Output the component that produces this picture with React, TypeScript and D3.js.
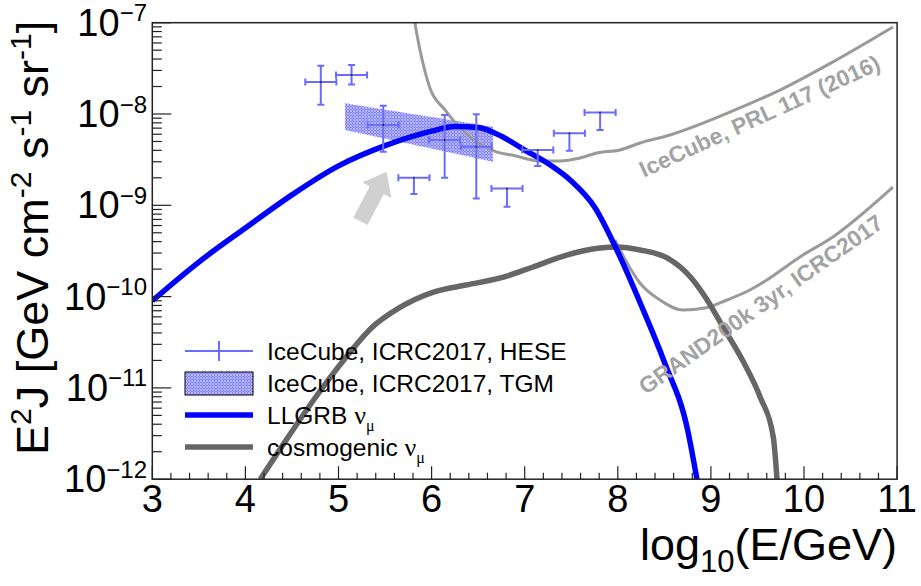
import React from 'react';
import * as d3 from 'd3';

const W = 921;
const H = 586;

// Axis ticks
const xTickValues = [3, 4, 5, 6, 7, 8, 9, 10, 11];
const yTickExponents = [-12, -11, -10, -9, -8, -7];

// IceCube ICRC2017 HESE points (log10 E, E^2 J)
const heseX = [4.81, 5.14, 5.48, 5.81, 6.14, 6.48, 6.81, 7.14, 7.48, 7.81];
const heseXErr = [0.167, 0.167, 0.167, 0.167, 0.167, 0.167, 0.167, 0.167, 0.167, 0.167];
const heseY = [2.24e-8, 2.67e-8, 7.58e-9, 2.0e-9, 5.19e-9, 4.38e-9, 1.53e-9, 4.03e-9, 6.15e-9, 1.04e-8];
const heseYHi = [3.38e-8, 3.44e-8, 1.23e-8, 2.0e-9, 9.75e-9, 9.93e-9, 1.53e-9, 4.03e-9, 6.15e-9, 1.04e-8];
const heseYLo = [1.26e-8, 2.11e-8, 3.86e-9, 1.33e-9, 2.0e-9, 1.19e-9, 9.66e-10, 2.69e-9, 3.96e-9, 6.68e-9];

// IceCube ICRC2017 TGM band
const tgmX = [5.07, 6.66];
const tgmUpper = [1.31e-8, 7.26e-9];
const tgmLower = [6.68e-9, 3.0e-9];

// LLGRB nu_mu
const llgrbX = [3.0, 3.5, 4.0, 4.5, 5.0, 5.5, 6.0, 6.25, 6.5, 6.75, 7.0, 7.25, 7.5, 7.75, 8.0, 8.25, 8.5, 8.75, 8.85, 8.95];
const llgrbY = [9.0e-11, 2.39e-10, 5.64e-10, 1.3e-9, 2.7e-9, 4.5e-9, 6.5e-9, 7.3e-9, 7.1e-9, 5.7e-9, 4.03e-9, 2.87e-9, 1.85e-9, 9.6e-10, 3.08e-10, 8.1e-11, 1.92e-11, 3.46e-12, 1.0e-12, 2.5e-13];

// cosmogenic nu_mu
const cosmoX = [4.16, 4.45, 4.75, 5.07, 5.34, 5.66, 6.02, 6.37, 6.74, 7.09, 7.45, 7.81, 7.99, 8.24, 8.53, 8.78, 8.96, 9.13, 9.35, 9.53, 9.67, 9.71];
const cosmoY = [1.0e-12, 2.8e-12, 7.8e-12, 2.1e-11, 4.4e-11, 7.6e-11, 1.12e-10, 1.34e-10, 1.6e-10, 2.11e-10, 2.85e-10, 3.4e-10, 3.49e-10, 3.24e-10, 2.65e-10, 1.64e-10, 9.2e-11, 4.65e-11, 1.92e-11, 7.9e-12, 2.9e-12, 1.0e-12];

// IceCube, PRL 117 (2016) limit
const icX = [5.8, 5.875, 5.982, 6.144, 6.305, 6.488, 6.702, 6.863, 7.164, 7.379, 7.594, 7.776, 8.023, 8.238, 8.56, 9.387, 9.742, 10.311, 10.956];
const icY = [1.3e-7, 5.02e-8, 1.93e-8, 1.11e-8, 7.04e-9, 4.94e-9, 3.83e-9, 3.55e-9, 3.06e-9, 3.06e-9, 3.3e-9, 3.74e-9, 4.04e-9, 4.81e-9, 5.89e-9, 1.26e-8, 1.83e-8, 3.72e-8, 8.97e-8];

// GRAND200k 3yr sensitivity
const grandX = [7.97, 8.024, 8.131, 8.238, 8.453, 8.7, 8.936, 9.172, 9.419, 9.601, 9.956, 10.31, 10.955];
const grandY = [4.17e-10, 3.24e-10, 2.06e-10, 1.41e-10, 9.18e-11, 7.13e-11, 7.5e-11, 9.18e-11, 1.18e-10, 1.52e-10, 2.72e-10, 4.5e-10, 1.58e-9];

// Arrow annotation (tail -> tip), data coords
const arrowX = [5.235, 5.517];
const arrowY = [6.7e-10, 2.33e-9];

// Curve label anchors (data coords) and angles
const labelTexts = ['IceCube, PRL 117 (2016)', 'GRAND200k 3yr, ICRC2017'];
const labelX = [8.28, 8.3];
const labelY = [2.0e-9, 8.3e-12];
const labelAngle = [-24.6, -35.2];

const legendLabels = ['IceCube, ICRC2017, HESE', 'IceCube, ICRC2017, TGM', 'LLGRB ', 'cosmogenic '];

const FONT = "'Liberation Sans', Arial, Helvetica, sans-serif";

export default function App() {
  const left = 152.3, right = 897.1, top = 22.7, bottom = 479.2;
  const xs = d3.scaleLinear().domain([3, 11]).range([left, right]);
  const ys = d3.scaleLog().domain([1e-12, 1e-7]).range([bottom, top]);

  const line = (X: number[], Y: number[]) =>
    d3.line<number>().x((i) => xs(X[i])).y((i) => ys(Y[i])).curve(d3.curveMonotoneX)(X.map((_, i) => i)) || '';

  const band = d3.area<number>()
    .x((i) => xs(tgmX[i]))
    .y0((i) => ys(tgmLower[i]))
    .y1((i) => ys(tgmUpper[i]))(tgmX.map((_, i) => i)) || '';

  // x minor ticks every 0.2
  const xMinor: number[] = [];
  for (let v = 3; v <= 11.0001; v += 0.2) {
    const r = Math.round(v * 10) / 10;
    if (Math.abs(r - Math.round(r)) > 1e-6) xMinor.push(r);
  }
  const yMinor: number[] = [];
  for (let e = -12; e < -7; e++) for (let k = 2; k <= 9; k++) yMinor.push(k * Math.pow(10, e));

  // Arrow geometry
  const ax0 = xs(arrowX[0]), ay0 = ys(arrowY[0]);
  const ax1 = xs(arrowX[1]), ay1 = ys(arrowY[1]);
  const dx = ax1 - ax0, dy = ay1 - ay0;
  const L = Math.hypot(dx, dy);
  const ux = dx / L, uy = dy / L;
  const nx = -uy, ny = ux;
  const shaftHalf = 8, headHalf = 16.5, headLen = 21;
  const bx = ax1 - ux * headLen, by = ay1 - uy * headLen;
  const arrowPts = [
    [ax0 + nx * shaftHalf, ay0 + ny * shaftHalf],
    [bx + nx * shaftHalf, by + ny * shaftHalf],
    [bx + nx * headHalf, by + ny * headHalf],
    [ax1, ay1],
    [bx - nx * headHalf, by - ny * headHalf],
    [bx - nx * shaftHalf, by - ny * shaftHalf],
    [ax0 - nx * shaftHalf, ay0 - ny * shaftHalf],
  ].map((p) => p.join(',')).join(' ');

  const heseColor = '#6b6bff';
  const cap = 3.5;

  const legX0 = 185, legX1 = 253, legTextX = 267;
  const legRows = [351, 383.5, 415, 447];
  const greek = "'Liberation Serif', 'Times New Roman', serif";

  return (
    <svg width={W} height={H} style={{ position: 'absolute', left: 0, top: 0, background: '#fff' }} fontFamily={FONT}>
      <defs>
        <clipPath id="plotclip">
          <rect x={left} y={top} width={right - left} height={bottom - top} />
        </clipPath>
        <pattern id="tgm" width="3" height="3" patternUnits="userSpaceOnUse">
          <rect width="3" height="3" fill="#d2d2ff" />
          <circle cx="1.5" cy="1.5" r="0.95" fill="none" stroke="#4a4aff" strokeWidth="0.75" />
        </pattern>
      </defs>
      <rect x={0} y={0} width={W} height={H} fill="#fff" />

      <g clipPath="url(#plotclip)">
        <path d={band} fill="url(#tgm)" stroke="none" />
        <polygon points={arrowPts} fill="#cfd0cf" />
        <path d={line(icX, icY)} fill="none" stroke="#9a9a9a" strokeWidth={3} />
        <path d={line(grandX, grandY)} fill="none" stroke="#9a9a9a" strokeWidth={3} />
        <path d={line(cosmoX, cosmoY)} fill="none" stroke="#666666" strokeWidth={5.5} />
        <path d={line(llgrbX, llgrbY)} fill="none" stroke="#0000ff" strokeWidth={5.5} />
        {heseX.map((x, i) => {
          const cx = xs(x), cy = ys(heseY[i]);
          const xl = xs(x - heseXErr[i]), xr = xs(x + heseXErr[i]);
          const yh = ys(heseYHi[i]), yl = ys(heseYLo[i]);
          return (
            <g key={i} stroke={heseColor} strokeWidth={2}>
              <line x1={xl} x2={xr} y1={cy} y2={cy} />
              <line x1={xl} x2={xl} y1={cy - cap} y2={cy + cap} />
              <line x1={xr} x2={xr} y1={cy - cap} y2={cy + cap} />
              <line x1={cx} x2={cx} y1={yh} y2={yl} />
              {cy - yh > 1 && <line x1={cx - cap} x2={cx + cap} y1={yh} y2={yh} />}
              {yl - cy > 1 && <line x1={cx - cap} x2={cx + cap} y1={yl} y2={yl} />}
              <circle cx={cx} cy={cy} r={1} fill="#333" stroke="none" />
            </g>
          );
        })}
      </g>

      {/* curve labels */}
      {labelTexts.map((t, i) => (
        <text key={t} transform={`translate(${xs(labelX[i])},${ys(labelY[i])}) rotate(${labelAngle[i]})`}
          fontSize={22.8} fontWeight="bold" fill="#a3a3a3">{t}</text>
      ))}

      {/* legend */}
      <g>
        <line x1={legX0} x2={legX1} y1={legRows[0]} y2={legRows[0]} stroke={heseColor} strokeWidth={2} />
        <line x1={(legX0 + legX1) / 2} x2={(legX0 + legX1) / 2} y1={legRows[0] - 10} y2={legRows[0] + 10} stroke={heseColor} strokeWidth={2} />
        <rect x={legX0} y={legRows[1] - 11.5} width={legX1 - legX0} height={23} fill="url(#tgm)" stroke="#000" strokeWidth={1} />
        <line x1={legX0} x2={legX1} y1={legRows[2]} y2={legRows[2]} stroke="#0000ff" strokeWidth={5.5} />
        <line x1={legX0} x2={legX1} y1={legRows[3]} y2={legRows[3]} stroke="#666666" strokeWidth={5.5} />
        {legendLabels.map((l, i) => (
          <text key={i} x={legTextX} y={legRows[i] + 8.5} fontSize={24.5} fill="#000">
            {l}
            {i >= 2 && (
              <>
                <tspan fontFamily={greek} fontSize={26}>ν</tspan>
                <tspan fontFamily={greek} fontSize={16} dy={7}>μ</tspan>
              </>
            )}
          </text>
        ))}
      </g>

      {/* frame */}
      <rect x={left} y={top} width={right - left} height={bottom - top} fill="none" stroke="#222" strokeWidth={1.5} />

      {/* x axis ticks */}
      {xTickValues.map((v) => (
        <line key={'xM' + v} x1={xs(v)} x2={xs(v)} y1={bottom} y2={bottom - 13} stroke="#222" strokeWidth={1.2} />
      ))}
      {xMinor.map((v) => (
        <line key={'xm' + v} x1={xs(v)} x2={xs(v)} y1={bottom} y2={bottom - 6.5} stroke="#222" strokeWidth={1.2} />
      ))}
      {xTickValues.map((v) => (
        <text key={'xl' + v} x={xs(v)} y={511.5} fontSize={38} textAnchor="middle" fill="#000">{v}</text>
      ))}

      {/* y axis ticks */}
      {yTickExponents.map((e) => (
        <line key={'yM' + e} x1={left} x2={left + 19} y1={ys(Math.pow(10, e))} y2={ys(Math.pow(10, e))} stroke="#222" strokeWidth={1.2} />
      ))}
      {yMinor.map((v, i) => (
        <line key={'ym' + i} x1={left} x2={left + 9.5} y1={ys(v)} y2={ys(v)} stroke="#222" strokeWidth={1.2} />
      ))}
      {yTickExponents.map((e) => (
        <text key={'yl' + e} x={147} y={ys(Math.pow(10, e)) + 13} fontSize={38} textAnchor="end" fill="#000">
          10<tspan fontSize={24} dy={-14.5}>{'\u2212' + Math.abs(e)}</tspan>
        </text>
      ))}

      {/* axis titles */}
      <text x={897} y={560} fontSize={45} textAnchor="end" fill="#000">
        log<tspan fontSize={31} dy={12}>10</tspan><tspan dy={-12}>(E/GeV)</tspan>
      </text>
      <text transform={`translate(48,${top - 2}) rotate(-90)`} fontSize={45} textAnchor="end" fill="#000">
        E<tspan fontSize={30} dy={-17}>2</tspan><tspan dy={17}>J [GeV cm</tspan>
        <tspan fontSize={30} dy={-17}>-2</tspan><tspan dy={17}> s</tspan>
        <tspan fontSize={30} dy={-17}>-1</tspan><tspan dy={17}> sr</tspan>
        <tspan fontSize={30} dy={-17}>-1</tspan><tspan dy={17}>]</tspan>
      </text>
    </svg>
  );
}
